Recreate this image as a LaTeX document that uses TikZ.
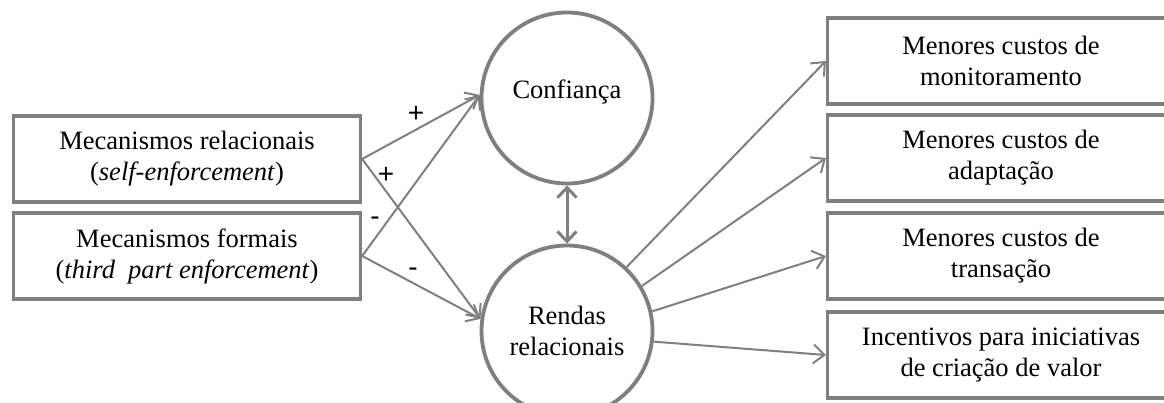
\documentclass[tikz,border=0pt]{standalone}
\usepackage{fontspec}
\setmainfont{Liberation Serif}
\newfontfamily\signfont{Liberation Sans}
\usetikzlibrary{arrows.meta}
\definecolor{lgray}{RGB}{127,127,127}

\begin{document}
\begin{tikzpicture}[x=1pt, y=-1pt,
    txt/.style={font=\fontsize{26.5}{31}\selectfont},
    box/.style={txt, draw=lgray, line width=3.3pt, minimum width=347pt, minimum height=86pt, align=center},
    circ/.style={txt, draw=lgray, circle, line width=3.8pt, minimum size=171pt, align=center},
    arr/.style={draw=lgray, line width=2pt, -{Straight Barb[length=11pt, width=19pt]}},
    sign/.style={font=\fontsize{28}{28}\signfont, inner sep=0pt}]
    \useasboundingbox (0,0) rectangle (1164,403);
    \clip (0,0) rectangle (1164,403);
    % left boxes
    \node[box] (R) at (187,159) {Mecanismos relacionais\\(\textit{self-enforcement})};
    \node[box] (F) at (187,256) {Mecanismos formais\\(\textit{third\ \ part enforcement})};
    % circles
    \node[circ, label={[txt, yshift=6pt]center:Confiança}] (C) at (567,98) {};
    \node[circ] (Rr) at (567,331) {Rendas\\relacionais};
    % right boxes
    \node[box] (M1) at (1001,61) {Menores custos de\\monitoramento};
    \node[box] (M2) at (1001,158) {Menores custos de\\adaptação};
    \node[box] (M3) at (1001,256) {Menores custos de\\transação};
    \node[box] (M4) at (1001,355) {Incentivos para iniciativas\\de criação de valor};
    % arrows
    \draw[arr] (R.east) -- (C.178);
    \draw[arr] (R.east) -- (Rr.172);
    \draw[arr] (F.east) -- (C.178);
    \draw[arr] (F.east) -- (Rr.172);
    \draw[arr, line width=3pt, {Straight Barb[length=10pt, width=19pt]}-{Straight Barb[length=10pt, width=19pt]}] (C) -- (Rr);
    \draw[arr] (Rr.47) -- (M1.west);
    \draw[arr] (Rr.31) -- (M2.west);
    \draw[arr] (Rr.13) -- (M3.west);
    \draw[arr] (Rr.-7) -- (M4.west);
    % signs
    \node[sign] (s1) at (416,114) {+};
    \node[sign] (s2) at (386,175) {+};
    \node[sign] (s3) at (375,221) {-};
    \node[sign] (s4) at (413,272) {-};
\end{tikzpicture}
\end{document}
